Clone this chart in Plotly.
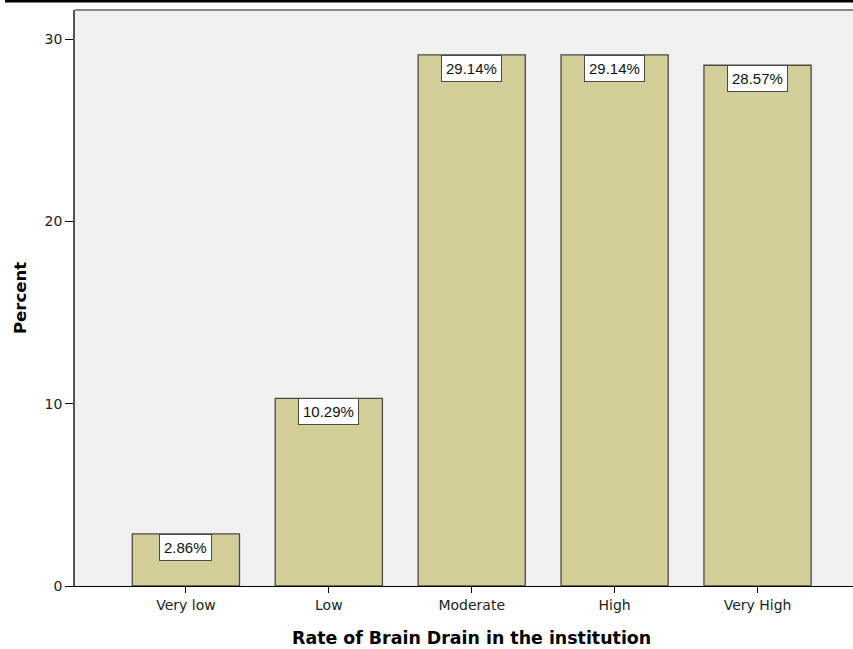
import plotly.graph_objects as go

# Survey responses: rate of brain drain in the institution
categories = ["Very low", "Low", "Moderate", "High", "Very High"]
percents = [2.86, 10.29, 29.14, 29.14, 28.57]
value_labels = ["2.86%", "10.29%", "29.14%", "29.14%", "28.57%"]
y_ticks = [0, 10, 20, 30]
x_title = "Rate of Brain Drain in the institution"

positions = list(range(len(categories)))

fig = go.Figure()
fig.add_trace(go.Bar(
    x=positions,
    y=percents,
    width=0.75,
    marker=dict(color="#d3ce97", line=dict(color="#4a4a4a", width=1.3)),
    hoverinfo="skip",
))

# Value boxes hung from the top of each bar
for pos, val, lab in zip(positions, percents, value_labels):
    fig.add_annotation(
        x=pos, y=val, xref="x", yref="y",
        text=lab, showarrow=False,
        xanchor="center", yanchor="top",
        font=dict(family="Liberation Sans, Arial", size=15, color="#111111"),
        bgcolor="#ffffff", bordercolor="#4a4a4a", borderwidth=1, borderpad=4,
    )

# Axis title centred under the middle category
fig.add_annotation(
    x=(positions[0] + positions[-1]) / 2, xref="x",
    y=0, yref="paper", yshift=-40,
    text="<b>" + x_title + "</b>", showarrow=False,
    xanchor="center", yanchor="top",
    font=dict(family="DejaVu Sans", size=17.4, color="#000000"),
)

# Grey top edge of the plot frame and black rule at the very top of the page
fig.add_shape(type="line", xref="paper", yref="paper",
              x0=0, x1=1, y0=1, y1=1,
              line=dict(color="#888888", width=2))
fig.add_shape(type="line", xref="paper", yref="paper",
              x0=-0.09, x1=1.0, y0=1.0156, y1=1.0156,
              line=dict(color="#000000", width=3))

fig.update_layout(
    width=853, height=649,
    margin=dict(l=75, r=0, t=10, b=63),
    paper_bgcolor="#ffffff",
    plot_bgcolor="#f0f0f0",
    showlegend=False,
    bargap=0.25,
    xaxis=dict(
        range=[-0.776, 4.668],
        tickmode="array", tickvals=positions, ticktext=categories,
        ticks="outside", ticklen=6, tickwidth=1.3, tickcolor="#000000",
        showline=True, linecolor="#000000", linewidth=1.3,
        showgrid=False, zeroline=False,
        tickfont=dict(family="DejaVu Sans", size=14, color="#222222"),
    ),
    yaxis=dict(
        range=[0, 31.6],
        tickmode="array", tickvals=y_ticks, ticktext=[str(t) for t in y_ticks],
        ticks="outside", ticklen=8, tickwidth=1.3, tickcolor="#000000",
        showline=True, linecolor="#555555", linewidth=1.5,
        showgrid=False, zeroline=False,
        tickfont=dict(family="DejaVu Sans", size=14, color="#222222"),
        title=dict(text="<b>Percent</b>",
                   font=dict(family="DejaVu Sans", size=16.5, color="#000000"),
                   standoff=14),
    ),
)

fig.write_html("out.html")
